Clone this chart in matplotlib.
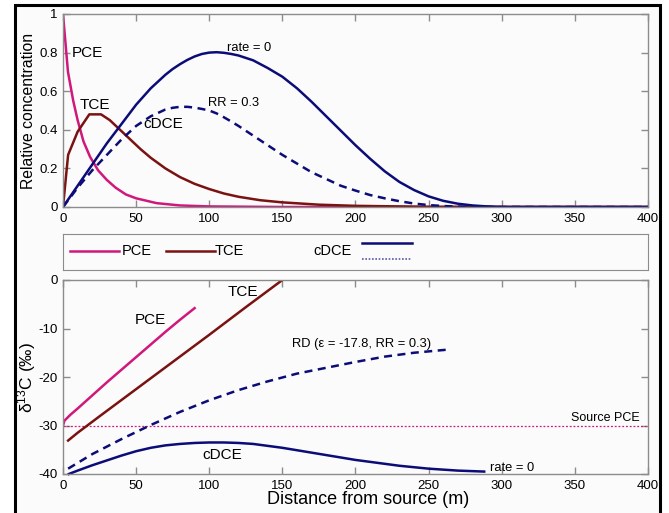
import matplotlib
matplotlib.use('Agg')
import matplotlib.pyplot as plt
from matplotlib.patches import Rectangle
from matplotlib.lines import Line2D

plt.rcParams['font.family'] = ['Liberation Sans', 'DejaVu Sans']
plt.rcParams['mathtext.fontset'] = 'custom'
plt.rcParams['mathtext.rm'] = 'Liberation Sans'
plt.rcParams['mathtext.it'] = 'Liberation Sans:italic'
plt.rcParams['axes.unicode_minus'] = False

# colours
PINK = '#d0187c'
MAROON = '#7a1212'
NAVY = '#0c0c78'
SPINE = '#8c8c8c'

# ---------------- top panel: relative concentration ----------------
pce_x = [0, 3.4, 7, 10, 14, 18.5, 24, 30, 36, 43, 50, 64, 80, 100, 150, 400]
pce_c = [1.0, 0.70, 0.55, 0.45, 0.34, 0.26, 0.19, 0.14, 0.10, 0.065, 0.045, 0.02, 0.008, 0.003, 0.0, 0.0]

tce_x = [0, 3.5, 10, 18, 26, 32, 39, 46, 53, 60, 70, 80, 90, 100, 110, 120, 135, 150, 175, 200, 250, 300, 400]
tce_c = [0, 0.27, 0.39, 0.48, 0.48, 0.45, 0.40, 0.35, 0.30, 0.255, 0.20, 0.155, 0.12, 0.093, 0.07,
         0.053, 0.035, 0.024, 0.012, 0.006, 0.001, 0.0, 0.0]

dce_x = [0, 10, 20, 30, 40, 50, 60, 70, 75, 80, 85, 90, 95, 100, 105, 110, 115, 120, 130, 140, 150,
         160, 170, 180, 190, 200, 210, 220, 230, 240, 250, 260, 270, 280, 290, 300, 400]
dce_rate0 = [0, 0.11, 0.22, 0.33, 0.43, 0.53, 0.615, 0.685, 0.715, 0.74, 0.762, 0.78, 0.793, 0.800,
             0.802, 0.799, 0.793, 0.785, 0.76, 0.72, 0.675, 0.615, 0.545, 0.47, 0.395, 0.32, 0.25,
             0.185, 0.13, 0.088, 0.055, 0.032, 0.017, 0.008, 0.003, 0.0, 0.0]
dce_rr03 = [0, 0.10, 0.19, 0.27, 0.35, 0.42, 0.47, 0.505, 0.514, 0.519, 0.519, 0.515, 0.508, 0.50,
            0.485, 0.465, 0.443, 0.42, 0.37, 0.32, 0.27, 0.225, 0.18, 0.145, 0.11, 0.085, 0.062,
            0.045, 0.03, 0.018, 0.01, 0.005, 0.002, 0.0, 0.0, 0.0, 0.0]

# ---------------- bottom panel: d13C ----------------
pce_iso_x = [0, 1, 3, 5, 10, 20, 30, 40, 50, 60, 70, 80, 90]
pce_iso = [-30, -29.0, -28.4, -27.8, -26.5, -23.8, -21.1, -18.5, -15.9, -13.3, -10.7, -8.2, -5.8]

tce_iso_x = [3.5, 10, 25, 50, 75, 100, 125, 150]
tce_iso = [-33.1, -31.5, -28.1, -22.5, -16.9, -11.3, -5.6, 0.0]

rd_x = [3.5, 20, 40, 60, 80, 100, 120, 140, 160, 180, 200, 220, 240, 265]
rd_iso = [-38.9, -35.9, -32.8, -29.9, -27.2, -24.8, -22.7, -20.9, -19.3, -18.1, -16.9, -15.8, -15.0, -14.3]

dce_iso_x = [4, 10, 20, 30, 40, 50, 60, 70, 80, 90, 100, 110, 120, 130, 140, 150, 160, 170, 180,
             190, 200, 210, 220, 230, 240, 250, 260, 270, 288]
dce_iso = [-40, -39.3, -38.2, -37.2, -36.2, -35.3, -34.6, -34.1, -33.8, -33.6, -33.5, -33.5, -33.6,
           -33.8, -34.2, -34.6, -35.1, -35.6, -36.1, -36.6, -37.1, -37.5, -37.9, -38.3, -38.6,
           -38.9, -39.1, -39.3, -39.5]

source_pce = -30
x_ticks = [0, 50, 100, 150, 200, 250, 300, 350, 400]

W, H = 669, 513
fig = plt.figure(figsize=(W / 100, H / 100), dpi=100, facecolor='white')

# outer frame
fig.patches.append(Rectangle((15 / W, -0.05), (660 - 15) / W, 1.05 - 5 / H, transform=fig.transFigure,
                             facecolor='#fbfbfb', edgecolor='black', linewidth=2.2, zorder=-10))


def pix_axes(left, top, right, bottom):
    return fig.add_axes([left / W, 1 - bottom / H, (right - left) / W, (bottom - top) / H])


def style(ax):
    ax.set_facecolor('#fbfbfb')
    for s in ax.spines.values():
        s.set_color(SPINE)
        s.set_linewidth(1.0)
    ax.tick_params(direction='in', length=5, width=1, color=SPINE, top=True, right=True,
                   labelsize=9.5, pad=4)


ax1 = pix_axes(63, 14, 648, 207)
style(ax1)
ax1.plot(pce_x, pce_c, color=PINK, lw=1.8)
ax1.plot(tce_x, tce_c, color=MAROON, lw=1.8)
ax1.plot(dce_x, dce_rr03, color=NAVY, lw=1.8, ls=(0, (3.2, 2.2)))
ax1.plot(dce_x, dce_rate0, color=NAVY, lw=1.8)
ax1.set_xlim(0, 400)
ax1.set_ylim(0, 1)
ax1.set_xticks(x_ticks)
ax1.set_yticks([0, 0.2, 0.4, 0.6, 0.8, 1])
ax1.set_yticklabels(['0', '0.2', '0.4', '0.6', '0.8', '1'])
ax1.set_ylabel('Relative concentration', fontsize=11.3, labelpad=2)
ax1.text(6.2, 0.80, 'PCE', fontsize=11, va='center')
ax1.text(11.6, 0.53, 'TCE', fontsize=11, va='center')
ax1.text(54.7, 0.43, 'cDCE', fontsize=11, va='center')
ax1.text(112, 0.825, 'rate = 0', fontsize=9.3, va='center')
ax1.text(99, 0.54, 'RR = 0.3', fontsize=9.3, va='center')

# legend box
axl = pix_axes(63, 234, 648, 270)
axl.set_facecolor('#fbfbfb')
for s in axl.spines.values():
    s.set_color(SPINE)
axl.set_xticks([])
axl.set_yticks([])
axl.set_xlim(63, 648)
axl.set_ylim(270, 234)
axl.add_line(Line2D([70, 119], [251, 251], color=PINK, lw=1.8))
axl.text(122, 251, 'PCE', fontsize=10.5, va='center')
axl.add_line(Line2D([166, 215], [251, 251], color=MAROON, lw=1.8))
axl.text(215, 251, 'TCE', fontsize=10.5, va='center')
axl.text(313, 251, 'cDCE', fontsize=10.5, va='center')
axl.add_line(Line2D([362, 412], [243, 243], color=NAVY, lw=1.8))
axl.add_line(Line2D([362, 412], [259, 259], color='#5a5aa8', lw=1.2, ls=(0, (1, 1))))

ax2 = pix_axes(63, 280, 648, 474)
style(ax2)
ax2.axhline(source_pce, color=PINK, lw=0.9, ls=(0, (1.5, 1.5)))
ax2.plot(pce_iso_x, pce_iso, color=PINK, lw=1.8)
ax2.plot(tce_iso_x, tce_iso, color=MAROON, lw=1.8)
ax2.plot(rd_x, rd_iso, color=NAVY, lw=1.8, ls=(0, (3.2, 2.2)))
ax2.plot(dce_iso_x, dce_iso, color=NAVY, lw=1.8, clip_on=False)
ax2.set_xlim(0, 400)
ax2.set_ylim(-40, 0)
ax2.set_xticks(x_ticks)
ax2.set_yticks([0, -10, -20, -30, -40])
ax2.set_ylabel('δ$^{13}$C (‰)', fontsize=12.5, labelpad=0)
ax2.text(59.5, -8.2, 'PCE', fontsize=11, ha='center', va='center')
ax2.text(123, -2.5, 'TCE', fontsize=11, ha='center', va='center')
ax2.text(156.6, -13.2, 'RD (ε = -17.8, RR = 0.3)', fontsize=9.3, va='center')
ax2.text(108.7, -36.1, 'cDCE', fontsize=11, ha='center', va='center')
ax2.text(292, -38.8, 'rate = 0', fontsize=9.3, va='center')
ax2.text(394.5, -28.5, 'Source PCE', fontsize=9, ha='right', va='center')

fig.text(368 / W, 1 - 499 / H, 'Distance from source (m)', fontsize=13, ha='center', va='center')

fig.savefig('out.png', dpi=100, facecolor=fig.get_facecolor())
